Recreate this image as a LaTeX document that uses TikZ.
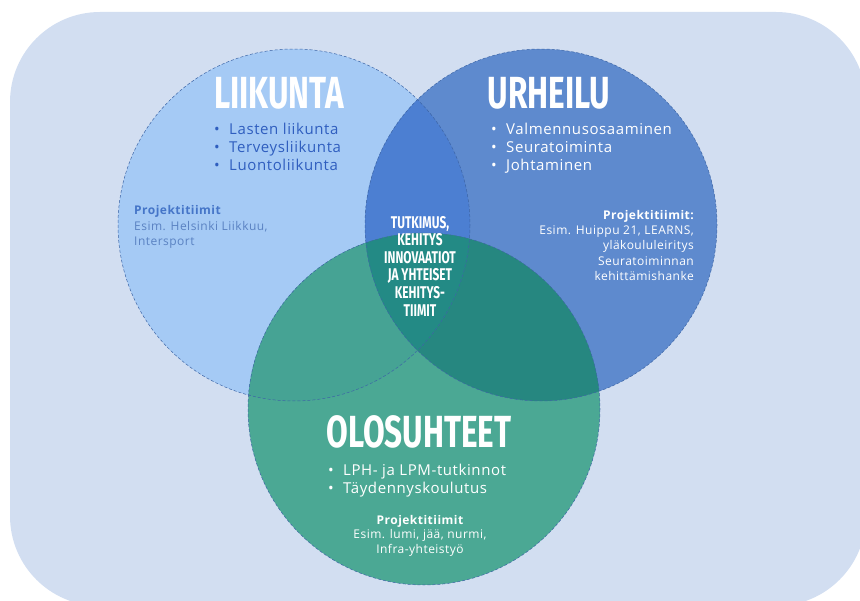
\documentclass[tikz,border=0pt]{standalone}
\usepackage{fontspec}
\setmainfont{Open Sans}[LetterSpace=4]
\newfontfamily\headfont[FakeStretch=0.7]{Fira Sans}
\usetikzlibrary{positioning}

\definecolor{bgblue}{HTML}{D2DEF1}
\definecolor{liikcol}{HTML}{A5CAF5}
\definecolor{urhcol}{HTML}{5E8ACE}
\definecolor{olocol}{HTML}{4BA894}
\definecolor{lrcol}{HTML}{4C7FD2}
\definecolor{blcol}{HTML}{46A394}
\definecolor{brcol}{HTML}{268780}
\definecolor{midcol}{HTML}{238A85}
\definecolor{edgecol}{HTML}{3D65A6}
\definecolor{darktext}{HTML}{2F5EBF}
\definecolor{softtext}{HTML}{5A82C2}
\definecolor{projtext}{HTML}{4575C8}

\tikzset{
  heading/.style={text=white, inner sep=0pt, text height=32pt, text depth=0pt,
    font=\headfont\bfseries\fontsize{45}{45}\selectfont},
  midtext/.style={text=white, inner sep=0pt, align=center, font=\headfont\bfseries\fontsize{17}{17.6}\selectfont},
  bulletline/.style={inner sep=0pt, anchor=base west, font=\fontsize{15}{18}\selectfont},
  projtitle/.style={inner sep=0pt, font=\bfseries\fontsize{12}{15}\selectfont},
  projlines/.style={inner sep=0pt, font=\fontsize{12}{15.5}\selectfont},
  rim/.style={edgecol, dashed, line width=0.5pt, dash pattern=on 3pt off 2pt}
}
\newcommand{\bl}{\makebox[15pt][l]{\textbullet}}

\begin{document}
\begin{tikzpicture}[x=1pt, y=-1pt]
            \useasboundingbox (0,0) rectangle (860,601);
            \clip (0,0) rectangle (860,601);

            % Background
            \fill[bgblue, rounded corners=90pt] (10,12) rectangle (866,606);

            % Circle centres
            \coordinate (liik) at (294,225);
            \coordinate (urh) at (541,225);
            \coordinate (olo) at (424,409);

            % Circles and overlaps
            \fill[liikcol] (liik) circle (176);
            \fill[urhcol] (urh) circle (176);
            \begin{scope}
                \clip (liik) circle (176);
                \fill[lrcol] (urh) circle (176);
            \end{scope}
            \fill[olocol] (olo) circle (176);
            \begin{scope}
                \clip (olo) circle (176);
                \fill[blcol] (liik) circle (176);
                \fill[brcol] (urh) circle (176);
                \clip (liik) circle (176);
                \fill[midcol] (urh) circle (176);
            \end{scope}

            % Dashed rims
            \draw[rim] (liik) circle (176);
            \draw[rim] (urh) circle (176);
            \draw[rim] (olo) circle (176);

            % LIIKUNTA
            \node[heading] (liikhead) at (279,93) {LIIKUNTA};
            \foreach \txt [count=\i] in {Lasten liikunta, Terveysliikunta, Luontoliikunta}
                \node[bulletline, text=darktext] (liikb\i) at (214,{117+18*\i}) {\bl\txt};
            \node[projtitle, text=projtext, anchor=west] (liikproj) at (134,211) {Projektitiimit};
            \node[projlines, text=softtext, align=left, anchor=north west] (liikesim) at (134,221)
                {Esim. Helsinki Liikkuu,\\ Intersport};

            % URHEILU
            \node[heading] (urhhead) at (549,93) {URHEILU};
            \foreach \txt [count=\i] in {Valmennusosaaminen, Seuratoiminta, Johtaminen}
                \node[bulletline, text=white] (urhb\i) at (491,{117+18*\i}) {\bl\txt};
            \node[projtitle, text=white, anchor=east] (urhproj) at (694,216) {Projektitiimit:};
            \node[projlines, text=white, align=right, anchor=north east] (urhesim) at (694,225)
                {Esim. Huippu 21, LEARNS,\\ yläkoululeiritys\\ Seuratoiminnan\\ kehittämishanke};

            % Middle
            \node[midtext] (midtxt) at (420,266)
                {TUTKIMUS,\\ KEHITYS\\ INNOVAATIOT\\ JA YHTEISET\\ KEHITYS-\\ TIIMIT};

            % OLOSUHTEET
            \node[heading] (olohead) at (419,432) {OLOSUHTEET};
            \foreach \txt [count=\i] in {LPH- ja LPM-tutkinnot, Täydennyskoulutus}
                \node[bulletline, text=white] (olob\i) at (328,{458+18*\i}) {\bl\txt};
            \node[projtitle, text=white] (oloproj) at (420,521) {Projektitiimit};
            \node[projlines, text=white, align=center, anchor=north] (oloesim) at (420,529)
                {Esim. lumi, jää, nurmi,\\ Infra-yhteistyö};

        \end{tikzpicture}
\end{document}
